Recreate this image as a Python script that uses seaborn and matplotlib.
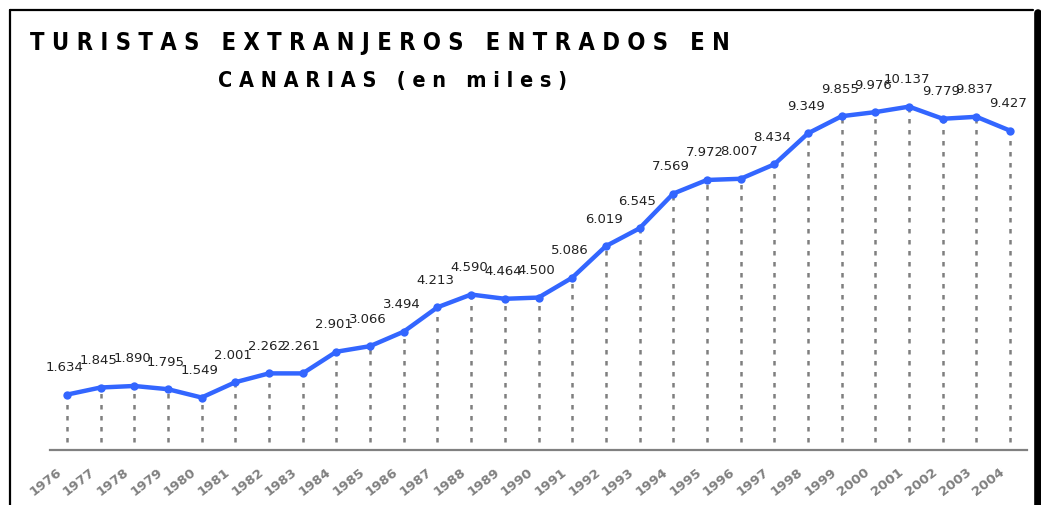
import matplotlib
matplotlib.use("Agg")
import matplotlib.pyplot as plt
import matplotlib.transforms as mtransforms
from matplotlib.lines import Line2D
import seaborn as sns
import numpy as np

# datos: turistas extranjeros entrados en Canarias (miles)
years = [1976, 1977, 1978, 1979, 1980, 1981, 1982, 1983, 1984, 1985,
         1986, 1987, 1988, 1989, 1990, 1991, 1992, 1993, 1994, 1995,
         1996, 1997, 1998, 1999, 2000, 2001, 2002, 2003, 2004]
tourists = [1634, 1845, 1890, 1795, 1549, 2001, 2262, 2261, 2901, 3066,
            3494, 4213, 4590, 4464, 4500, 5086, 6019, 6545, 7569, 7972,
            8007, 8434, 9349, 9855, 9976, 10137, 9779, 9837, 9427]
value_labels = ["1.634", "1.845", "1.890", "1.795", "1.549", "2.001", "2.262",
                "2.261", "2.901", "3.066", "3.494", "4.213", "4.590", "4.464",
                "4.500", "5.086", "6.019", "6.545", "7.569", "7.972", "8.007",
                "8.434", "9.349", "9.855", "9.976", "10.137", "9.779", "9.837",
                "9.427"]
title_1 = "TURISTAS EXTRANJEROS ENTRADOS EN"
title_2 = "CANARIAS (en miles)"

sns.set_style("white")
plt.rcParams['font.family'] = ['DejaVu Sans']

W, H = 1041, 505
fig = plt.figure(figsize=(W / 100, H / 100), dpi=100)
ax = fig.add_axes([50 / W, 1 - 450 / H, (1027 - 50) / W, (450 - 10) / H])

pos = np.arange(len(years))

# lineas de referencia punteadas
ax.vlines(pos, 250, tourists, colors="#7f7f7f", linewidth=1.8,
          linestyles=(0, (1.8, 2.6)), zorder=1)

sns.lineplot(x=pos, y=tourists, ax=ax, color="#3366ff", linewidth=3.2,
             marker="o", markersize=6, markeredgewidth=0, zorder=3)

for i, (v, lab) in enumerate(zip(tourists, value_labels)):
    ax.annotate(lab, (i, v), xytext=(-1.5, 19.5), textcoords="offset points",
                ha="center", va="center", fontsize=9.5, color="#222222")

ax.set_xlim(-0.5, len(years) - 0.5)
ax.set_ylim(0, 12990)
ax.set_yticks([])
ax.set_xticks(pos, [str(y) for y in years])
ax.set_xticks(np.arange(-0.5, len(years), 1), minor=True)
ax.tick_params(axis="x", which="major", length=0, pad=11, labelsize=9.5,
               labelcolor="#808080", rotation=38)
ax.tick_params(axis="x", which="minor", length=4, width=1.2, color="#808080",
               direction="out")
for t in ax.get_xticklabels():
    t.set_fontweight("bold")
    t.set_ha("right")
    t.set_va("top")
    t.set_rotation_mode("anchor")
    t.set_transform(t.get_transform() +
                    mtransforms.ScaledTranslation(-11 / 100, 0, fig.dpi_scale_trans))

for s in ["top", "right", "left"]:
    ax.spines[s].set_visible(False)
ax.spines["bottom"].set_color("#808080")
ax.spines["bottom"].set_linewidth(1.6)
ax.set_xlabel("")
ax.set_ylabel("")

# marco y sombra
fig.add_artist(Line2D([10 / W, 10 / W], [0, 1 - 10 / H], transform=fig.transFigure,
                      color="black", linewidth=1.6))
fig.add_artist(Line2D([10 / W, 1033 / W], [1 - 10 / H, 1 - 10 / H],
                      transform=fig.transFigure, color="black", linewidth=1.6))
fig.add_artist(Line2D([1037.5 / W, 1037.5 / W], [0, 1 - 13 / H],
                      transform=fig.transFigure, color="black", linewidth=5.5))

# titulo con letras espaciadas
def spaced(s):
    return "   ".join(" ".join(w) for w in s.split(" "))

fig.text(380 / W, 1 - 43 / H, spaced(title_1), ha="center", va="center",
         fontsize=17, fontweight="heavy", fontstretch="condensed", color="black")
fig.text(393 / W, 1 - 81 / H, spaced(title_2), ha="center", va="center",
         fontsize=15.5, fontweight="heavy", fontstretch="condensed", color="black")

fig.savefig("out.png", dpi=100)
